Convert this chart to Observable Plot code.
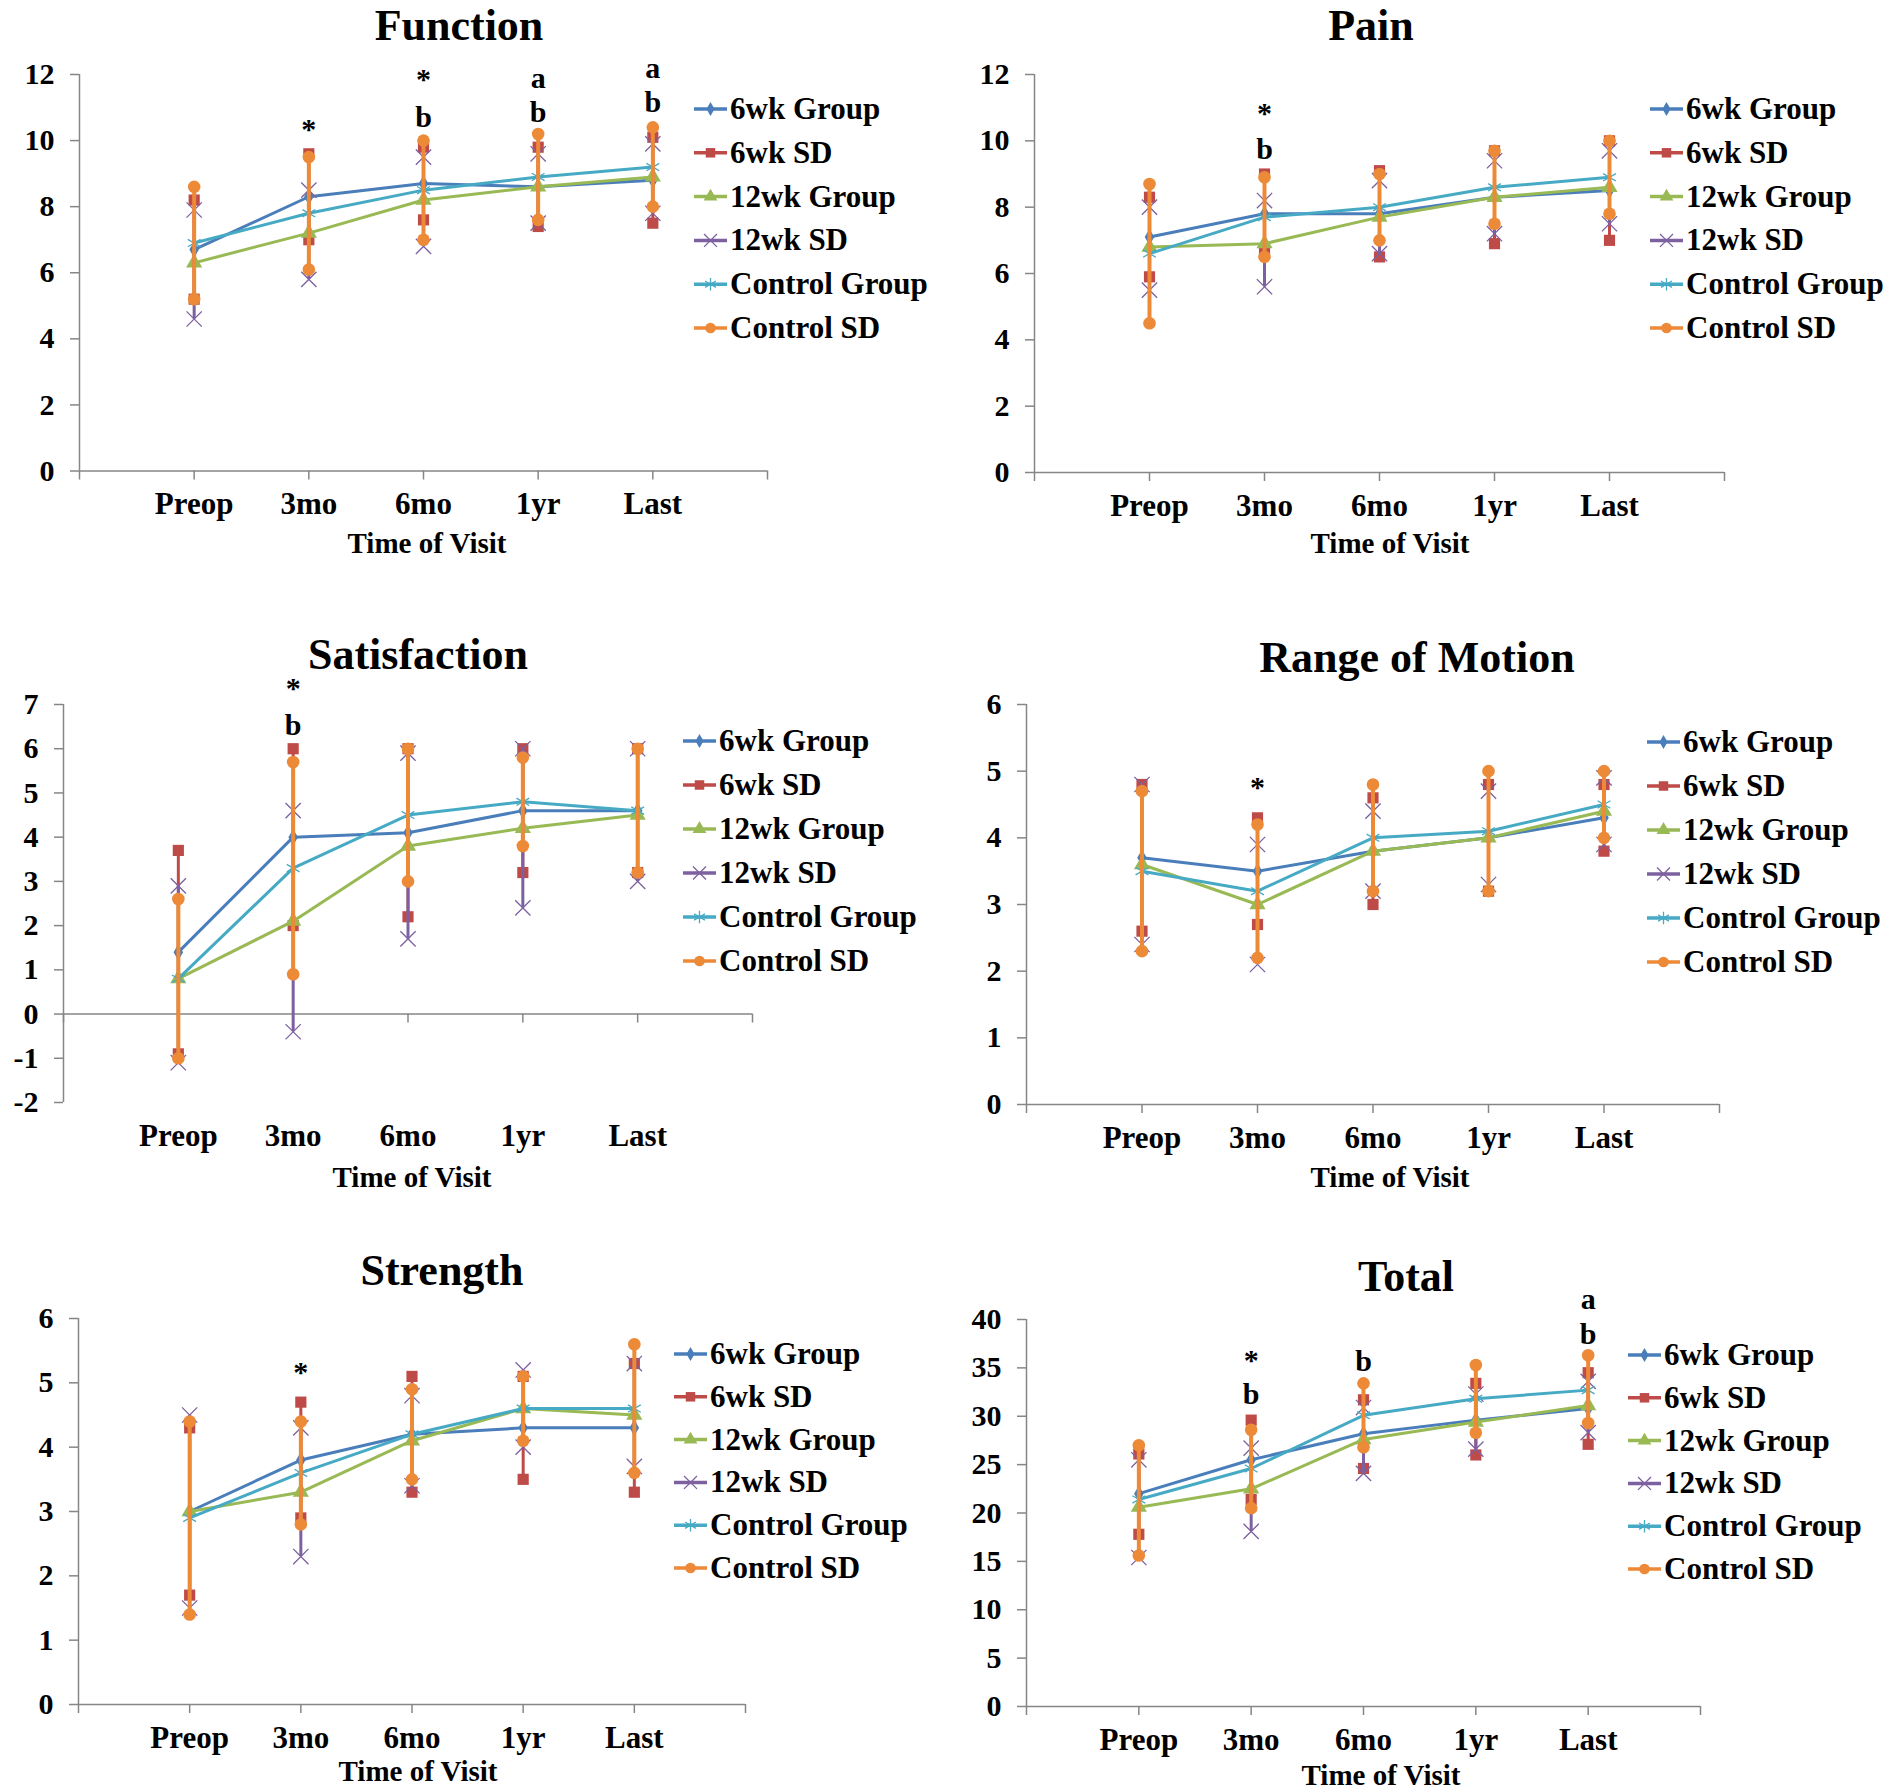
<!DOCTYPE html>
<html><head><meta charset="utf-8">
<script src="https://cdn.jsdelivr.net/npm/d3@7"></script>
<script src="https://cdn.jsdelivr.net/npm/@observablehq/plot@0.6"></script>
<style>
html,body{margin:0;padding:0;background:#fff;}
#page{position:relative;width:1896px;height:1792px;overflow:hidden;font-family:"Liberation Serif","Times New Roman",serif;}
</style></head><body><div id="page"></div>
<script>
const categories = ["Preop","3mo","6mo","1yr","Last"];
const seriesNames = ["6wk Group","6wk SD","12wk Group","12wk SD","Control Group","Control SD"];
const xTickPositions = [0,1,2,3,4,5,6];

// Function
const funcTicks = [0,2,4,6,8,10,12];
const funcG6 = [6.7, 8.3, 8.7, 8.6, 8.8];
const funcG12 = [6.3, 7.2, 8.2, 8.6, 8.9];
const funcCtl = [6.9, 7.8, 8.5, 8.9, 9.2];
const funcSD6Hi = [8.2, 9.6, 9.8, 9.8, 10.1];
const funcSD6Lo = [5.2, 7.0, 7.6, 7.4, 7.5];
const funcSD12Hi = [7.9, 8.5, 9.5, 9.6, 9.9];
const funcSD12Lo = [4.6, 5.8, 6.8, 7.5, 7.8];
const funcSDCHi = [8.6, 9.5, 10.0, 10.2, 10.4];
const funcSDCLo = [5.2, 6.1, 7.0, 7.6, 8.0];
const funcNotes = [
  {at:"3mo", y:10.4, label:"*"},
  {at:"6mo", y:11.9, label:"*"}, {at:"6mo", y:10.6, label:"b"},
  {at:"1yr", y:11.8, label:"a"}, {at:"1yr", y:10.75, label:"b"},
  {at:"Last", y:12.1, label:"a"}, {at:"Last", y:11.05, label:"b"}
];

// Pain
const painTicks = [0,2,4,6,8,10,12];
const painG6 = [7.1, 7.8, 7.8, 8.3, 8.5];
const painG12 = [6.8, 6.9, 7.7, 8.3, 8.6];
const painCtl = [6.6, 7.7, 8.0, 8.6, 8.9];
const painSD6Hi = [8.3, 9.0, 9.1, 9.7, 10.0];
const painSD6Lo = [5.9, 6.6, 6.5, 6.9, 7.0];
const painSD12Hi = [8.0, 8.2, 8.8, 9.4, 9.7];
const painSD12Lo = [5.5, 5.6, 6.6, 7.2, 7.5];
const painSDCHi = [8.7, 8.9, 9.0, 9.7, 10.0];
const painSDCLo = [4.5, 6.5, 7.0, 7.5, 7.8];
const painNotes = [{at:"3mo", y:10.9, label:"*"}, {at:"3mo", y:9.65, label:"b"}];

// Satisfaction
const satTicks = [-2,-1,0,1,2,3,4,5,6,7];
const satG6 = [1.4, 4.0, 4.1, 4.6, 4.6];
const satG12 = [0.8, 2.1, 3.8, 4.2, 4.5];
const satCtl = [0.8, 3.3, 4.5, 4.8, 4.6];
const satSD6Hi = [3.7, 6.0, 6.0, 6.0, 6.0];
const satSD6Lo = [-0.9, 2.0, 2.2, 3.2, 3.2];
const satSD12Hi = [2.9, 4.6, 5.9, 6.0, 6.0];
const satSD12Lo = [-1.1, -0.4, 1.7, 2.4, 3.0];
const satSDCHi = [2.6, 5.7, 6.0, 5.8, 6.0];
const satSDCLo = [-1.0, 0.9, 3.0, 3.8, 3.2];
const satNotes = [{at:"3mo", y:7.42, label:"*"}, {at:"3mo", y:6.46, label:"b"}];

// Range of Motion
const romTicks = [0,1,2,3,4,5,6];
const romG6 = [3.7, 3.5, 3.8, 4.0, 4.3];
const romG12 = [3.6, 3.0, 3.8, 4.0, 4.4];
const romCtl = [3.5, 3.2, 4.0, 4.1, 4.5];
const romSD6Hi = [4.8, 4.3, 4.6, 4.8, 4.8];
const romSD6Lo = [2.6, 2.7, 3.0, 3.2, 3.8];
const romSD12Hi = [4.8, 3.9, 4.4, 4.7, 4.9];
const romSD12Lo = [2.4, 2.1, 3.2, 3.3, 3.9];
const romSDCHi = [4.7, 4.2, 4.8, 5.0, 5.0];
const romSDCLo = [2.3, 2.2, 3.2, 3.2, 4.0];
const romNotes = [{at:"3mo", y:4.79, label:"*"}];

// Strength
const strTicks = [0,1,2,3,4,5,6];
const strG6 = [3.0, 3.8, 4.2, 4.3, 4.3];
const strG12 = [3.0, 3.3, 4.1, 4.6, 4.5];
const strCtl = [2.9, 3.6, 4.2, 4.6, 4.6];
const strSD6Hi = [4.3, 4.7, 5.1, 5.1, 5.3];
const strSD6Lo = [1.7, 2.9, 3.3, 3.5, 3.3];
const strSD12Hi = [4.5, 4.3, 4.8, 5.2, 5.3];
const strSD12Lo = [1.5, 2.3, 3.4, 4.0, 3.7];
const strSDCHi = [4.4, 4.4, 4.9, 5.1, 5.6];
const strSDCLo = [1.4, 2.8, 3.5, 4.1, 3.6];
const strNotes = [{at:"3mo", y:5.2, label:"*"}];

// Total
const totTicks = [0,5,10,15,20,25,30,35,40];
const totG6 = [22.0, 25.5, 28.2, 29.6, 30.8];
const totG12 = [20.6, 22.5, 27.6, 29.4, 31.1];
const totCtl = [21.4, 24.6, 30.1, 31.8, 32.7];
const totSD6Hi = [26.1, 29.6, 31.7, 33.4, 34.5];
const totSD6Lo = [17.8, 21.4, 24.6, 26.0, 27.1];
const totSD12Hi = [25.5, 26.7, 30.9, 32.3, 33.6];
const totSD12Lo = [15.4, 18.1, 24.1, 26.6, 28.3];
const totSDCHi = [27.0, 28.6, 33.4, 35.3, 36.3];
const totSDCLo = [15.6, 20.5, 26.8, 28.3, 29.3];
const totNotes = [
  {at:"3mo", y:36.0, label:"*"}, {at:"3mo", y:31.9, label:"b"},
  {at:"6mo", y:35.4, label:"b"},
  {at:"Last", y:41.8, label:"a"}, {at:"Last", y:38.2, label:"b"}
];

const panels = [
  {title:"Function", ticks:funcTicks, domain:[0,12], g6:funcG6, g12:funcG12, ctl:funcCtl,
   sd6:[funcSD6Lo,funcSD6Hi], sd12:[funcSD12Lo,funcSD12Hi], sdc:[funcSDCLo,funcSDCHi], notes:funcNotes,
   frame:{l:79,r:767,t:73.5,b:470}, titleXY:[459,40], xTitleXY:[427,553], legend:[694,109,43.8]},
  {title:"Pain", ticks:painTicks, domain:[0,12], g6:painG6, g12:painG12, ctl:painCtl,
   sd6:[painSD6Lo,painSD6Hi], sd12:[painSD12Lo,painSD12Hi], sdc:[painSDCLo,painSDCHi], notes:painNotes,
   frame:{l:1034,r:1724,t:74,b:472}, titleXY:[1371,40], xTitleXY:[1390,553], legend:[1650,109,43.8]},
  {title:"Satisfaction", ticks:satTicks, domain:[-2,7], g6:satG6, g12:satG12, ctl:satCtl,
   sd6:[satSD6Lo,satSD6Hi], sd12:[satSD12Lo,satSD12Hi], sdc:[satSDCLo,satSDCHi], notes:satNotes,
   frame:{l:63,r:752,t:704,b:1102}, titleXY:[418,669], xTitleXY:[412,1187], legend:[683,741,44]},
  {title:"Range of Motion", ticks:romTicks, domain:[0,6], g6:romG6, g12:romG12, ctl:romCtl,
   sd6:[romSD6Lo,romSD6Hi], sd12:[romSD12Lo,romSD12Hi], sdc:[romSDCLo,romSDCHi], notes:romNotes,
   frame:{l:1026,r:1719,t:704,b:1104}, titleXY:[1417,672], xTitleXY:[1390,1187], legend:[1647,742,44]},
  {title:"Strength", ticks:strTicks, domain:[0,6], g6:strG6, g12:strG12, ctl:strCtl,
   sd6:[strSD6Lo,strSD6Hi], sd12:[strSD12Lo,strSD12Hi], sdc:[strSDCLo,strSDCHi], notes:strNotes,
   frame:{l:78,r:745,t:1318,b:1704}, titleXY:[442,1285], xTitleXY:[418,1781], legend:[674,1354,42.8]},
  {title:"Total", ticks:totTicks, domain:[0,40], g6:totG6, g12:totG12, ctl:totCtl,
   sd6:[totSD6Lo,totSD6Hi], sd12:[totSD12Lo,totSD12Hi], sdc:[totSDCLo,totSDCHi], notes:totNotes,
   frame:{l:1026,r:1700,t:1319,b:1706}, titleXY:[1406,1291], xTitleXY:[1381,1785], legend:[1628,1355,42.8]}
];

const C = {blue:"#4A7EBB", red:"#BE4B48", green:"#98B954", purple:"#7D60A0", cyan:"#46AAC5", orange:"#EC8A38"};
const gray = "#868686";
const font = '"Liberation Serif","Times New Roman",serif';
const styleOf = [
  {color:C.blue, symbol:"diamond", r:5, filled:true},
  {color:C.red, symbol:"square", r:6.3, filled:true, w:3},
  {color:C.green, symbol:"triangle", r:6, filled:true},
  {color:C.purple, symbol:"times", r:7, filled:false, w:3},
  {color:C.cyan, symbol:"asterisk", r:7, filled:false},
  {color:C.orange, symbol:"circle", r:6.3, filled:true, w:4}
];

const page = document.getElementById("page");
const rowsOf = values => values.map((v,i) => ({xi:i+1, v}));
const sdRowsOf = ([lo,hi]) => lo.map((l,i) => ({xi:i+1, lo:l, hi:hi[i]}));
const dotStyle = s => s.filled ? {fill:s.color, stroke:"none"} : {fill:"none", stroke:s.color, strokeWidth:1.3};

for (const p of panels) {
  const ML=100, MR=30, MT=90, MB=80;
  const fw = p.frame.r - p.frame.l, fh = p.frame.b - p.frame.t;
  const upp = (p.domain[1]-p.domain[0]) / fh;
  const data = [rowsOf(p.g6), sdRowsOf(p.sd6), rowsOf(p.g12), sdRowsOf(p.sd12), rowsOf(p.ctl), sdRowsOf(p.sdc)];
  const marks = [
    Plot.ruleY([0], {stroke:gray, strokeWidth:1.5}),
    Plot.ruleX([0], {stroke:gray, strokeWidth:1.5}),
    Plot.ruleX(xTickPositions, {x:d=>d, y1:0, y2:-9*upp, stroke:gray, strokeWidth:1.5}),
    Plot.axisY(p.ticks, {tickSize:9, tickPadding:16, stroke:gray, strokeWidth:1.5, fill:"black", fontSize:30, label:null, tickFormat:d=>String(d)}),
    Plot.axisX([1,2,3,4,5], {tickSize:0, tickPadding:21, fill:"black", fontSize:31, label:null, tickFormat:i=>categories[i-1]})
  ];
  // each series drawn in order: its line, then its markers
  data.forEach((rows, k) => {
    const s = styleOf[k];
    if (k % 2 === 0) {
      marks.push(Plot.line(rows, {x:"xi", y:"v", stroke:s.color, strokeWidth:3}));
      marks.push(Plot.dot(rows, {x:"xi", y:"v", symbol:s.symbol, r:s.r, ...dotStyle(s)}));
    } else {
      marks.push(Plot.ruleX(rows, {x:"xi", y1:"lo", y2:"hi", stroke:s.color, strokeWidth:s.w}));
      marks.push(Plot.dot(rows, {x:"xi", y:"hi", symbol:s.symbol, r:s.r, ...dotStyle(s)}));
      marks.push(Plot.dot(rows, {x:"xi", y:"lo", symbol:s.symbol, r:s.r, ...dotStyle(s)}));
    }
  });
  const noteX = d => categories.indexOf(d.at) + 1;
  marks.push(Plot.text(p.notes, {filter:d=>d.label==="*", x:noteX, y:"y", text:"label", fontSize:30, fontWeight:"bold", fill:"black", dy:2}));
  marks.push(Plot.text(p.notes, {filter:d=>d.label!=="*", x:noteX, y:"y", text:"label", fontSize:30, fontWeight:"bold", fill:"black", dy:-3}));

  const svg = Plot.plot({
    width: fw+ML+MR, height: fh+MT+MB,
    marginLeft:ML, marginRight:MR, marginTop:MT, marginBottom:MB,
    x:{type:"linear", domain:[0,6]},
    y:{type:"linear", domain:p.domain},
    style:{fontFamily:font, fontWeight:"bold", fontSize:"30px", background:"transparent", overflow:"visible", maxWidth:"none"},
    marks
  });
  svg.style.position = "absolute";
  svg.style.left = (p.frame.l - ML) + "px";
  svg.style.top = (p.frame.t - MT) + "px";
  page.appendChild(svg);
}

// overlay: titles, axis titles, legends
const symbolMap = {diamond:d3.symbolDiamond, square:d3.symbolSquare, triangle:d3.symbolTriangle,
  times:d3.symbolTimes, asterisk:d3.symbolAsterisk, circle:d3.symbolCircle};
const ov = d3.create("svg").attr("width",1896).attr("height",1792)
  .style("position","absolute").style("left","0px").style("top","0px")
  .style("font-family",font).style("font-weight","bold");
for (const p of panels) {
  ov.append("text").attr("x",p.titleXY[0]).attr("y",p.titleXY[1]).attr("text-anchor","middle")
    .attr("font-size",44).attr("fill","black").text(p.title);
  ov.append("text").attr("x",p.xTitleXY[0]).attr("y",p.xTitleXY[1]).attr("text-anchor","middle")
    .attr("font-size",29).attr("fill","black").text("Time of Visit");
  const [lx, ly, step] = p.legend;
  seriesNames.forEach((name, j) => {
    const s = styleOf[j];
    const y = ly + j*step;
    ov.append("line").attr("x1",lx).attr("x2",lx+33).attr("y1",y).attr("y2",y)
      .attr("stroke",s.color).attr("stroke-width",3.5);
    const rr = s.r * 0.85;
    const path = ov.append("path").attr("transform",`translate(${lx+16.5},${y})`)
      .attr("d", d3.symbol(symbolMap[s.symbol], Math.PI*rr*rr)());
    if (s.filled) path.attr("fill",s.color); else path.attr("fill","none").attr("stroke",s.color).attr("stroke-width",1.3);
    ov.append("text").attr("x",lx+36).attr("y",y+10).attr("font-size",31).attr("fill","black").text(name);
  });
}
page.appendChild(ov.node());
</script></body></html>
